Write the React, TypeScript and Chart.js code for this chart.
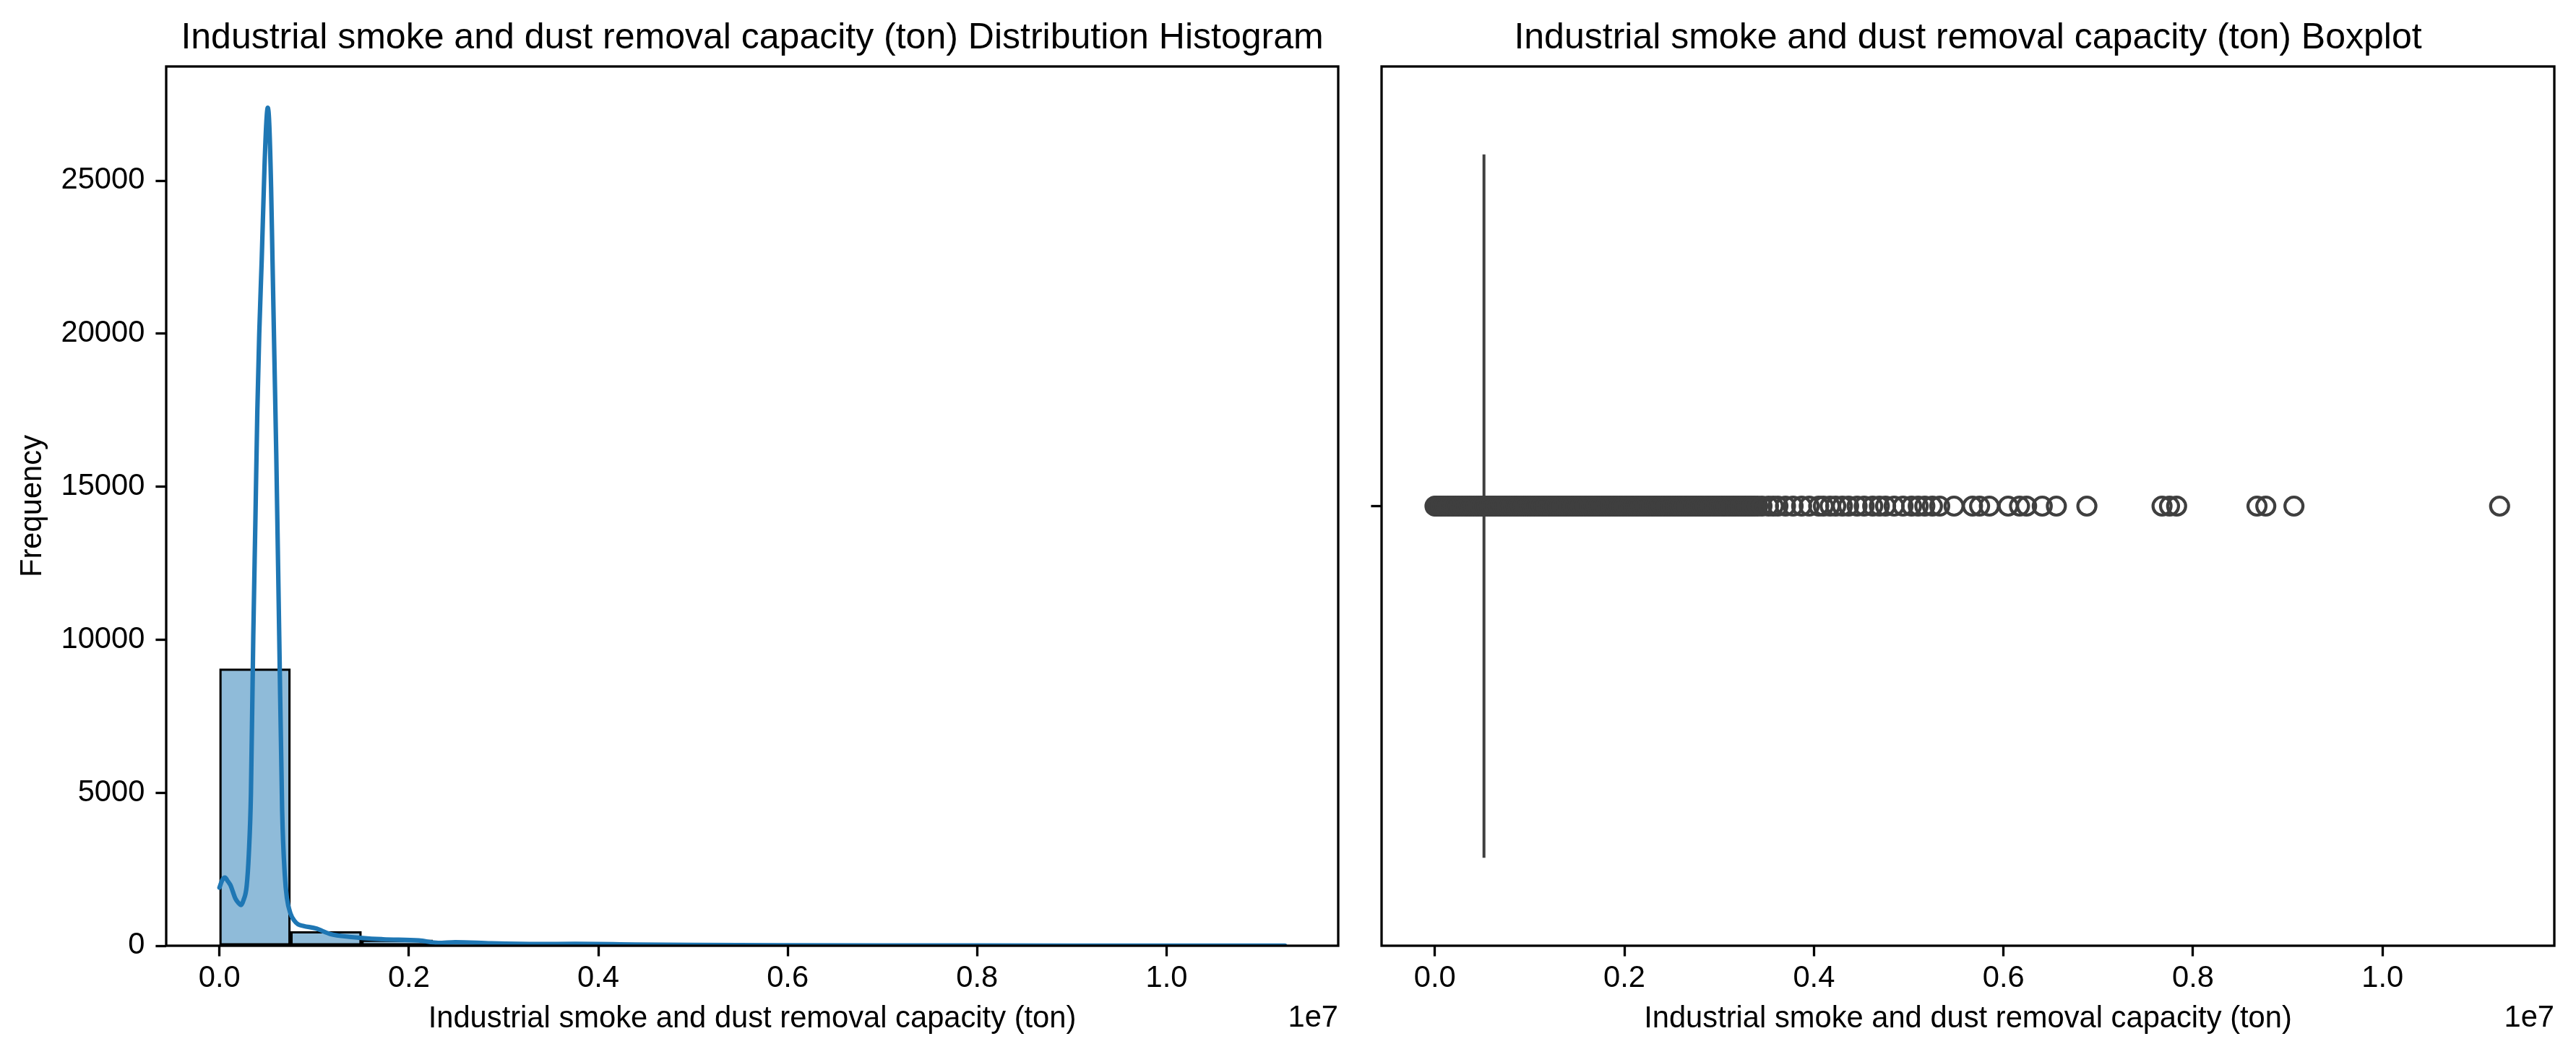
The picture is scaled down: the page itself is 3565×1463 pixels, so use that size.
import React, { useEffect, useRef } from 'react';
import Chart from 'chart.js/auto';

const FONT = "'Liberation Sans', Arial, sans-serif";
const VAR_LABEL = 'Industrial smoke and dust removal capacity (ton)';

// --- histogram: 15 bins of 750k from 0 to 11.25M (bin centres) ---
const binCenters = [
  375000, 1125000, 1875000, 2625000, 3375000, 4125000, 4875000, 5625000,
  6375000, 7125000, 7875000, 8625000, 9375000, 10125000, 10875000,
];
const binCounts = [9050, 470, 195, 70, 30, 15, 10, 6, 4, 2, 2, 1, 1, 1, 1];

// --- kde curve ---
const kdeX = [
  0, 30000, 58000, 90000, 116000, 140000, 167000, 200000, 226000, 255000, 287000,
  310000, 332000, 357000, 380000, 400000, 420000, 446000, 475000, 495000, 510000,
  525000, 545000, 560000, 580000, 600000, 631000, 662000, 690000, 712000, 750000,
  790000, 830000, 890000, 1017000, 1169000, 1371000, 1726000, 2106000, 2310000,
  2490000, 2870000, 3374000, 3754000, 4390000, 5000000, 6000000, 7000000, 8000000,
  9000000, 10000000, 11250000,
];
const kdeY = [
  1900, 2150, 2230, 2100, 1980, 1780, 1550, 1400, 1330, 1500, 1945,
  3000, 4930, 10120, 14000, 17500, 20000, 22400, 25400, 26900, 27380,
  26900, 24800, 22400, 19200, 16000, 10120, 4400, 2300, 1560, 1050,
  820, 700, 645, 567, 385, 290, 212, 173, 94,
  118, 78, 54, 60, 40, 25, 15, 10, 8,
  6, 4, 3,
];

// --- boxplot: collapsed box (q1 = median = q3) and the outliers ---
const boxMedian = 518000;
const flierValues = [
  1200, 19000, 42000, 61000, 88000, 107000, 133000, 151000, 178000, 196000, 224000,
  247000, 263000, 291000, 318000, 336000, 362000, 384000, 409000, 437000, 455000,
  481000, 503000, 529000, 548000, 577000, 596000, 622000, 641000, 668000, 694000,
  713000, 739000, 761000, 788000, 806000, 835000, 857000, 879000, 904000, 931000,
  952000, 978000, 1003000, 1026000, 1049000, 1077000, 1098000, 1124000, 1151000,
  1170000, 1199000, 1221000, 1246000, 1268000, 1295000, 1317000, 1342000, 1366000,
  1390000, 1413000, 1440000, 1461000, 1488000, 1512000, 1536000, 1559000, 1585000,
  1608000, 1633000, 1657000, 1681000, 1705000, 1731000, 1754000, 1779000, 1802000,
  1828000, 1851000, 1877000, 1899000, 1925000, 1949000, 1974000, 1997000, 2023000,
  2046000, 2072000, 2095000, 2121000, 2144000, 2170000, 2193000, 2219000, 2243000,
  2268000, 2291000, 2317000, 2340000, 2366000, 2390000, 2414000, 2439000, 2463000,
  2488000, 2512000, 2537000, 2561000, 2586000, 2610000, 2635000, 2659000, 2684000,
  2708000, 2733000, 2757000, 2782000, 2806000, 2831000, 2855000, 2880000, 2904000,
  2929000, 2953000, 2978000, 3002000, 3027000, 3051000, 3076000, 3100000, 3125000,
  3149000, 3174000, 3198000, 3223000, 3247000, 3272000, 3296000, 3318000,
  3345000, 3372000, 3405000, 3452000, 3520000, 3571000, 3620000, 3700000, 3780000,
  3870000, 3950000, 4050000, 4100000, 4170000, 4230000, 4300000, 4366000, 4455000,
  4530000, 4620000, 4690000, 4756000, 4846000, 4940000, 5030000, 5100000, 5170000,
  5250000, 5327000, 5478000, 5673000, 5748000, 5851000, 6049000, 6169000, 6244000,
  6409000, 6558000, 6880000, 7673000, 7752000, 7827000, 8675000, 8768000, 9065000,
  11235000,
];

// --- ticks ---
const xTicks = [0, 2000000, 4000000, 6000000, 8000000, 10000000];
const yTicks = [0, 5000, 10000, 15000, 20000, 25000];
const xMin = -562500;
const xMax = 11812500;

Chart.defaults.font.family = FONT;
Chart.defaults.color = '#000';

// axes frame, suptitle-ish axes title and the "1e7" offset text
const figTextPlugin = {
  id: 'figText',
  afterDraw(chart: any, _args: any, opts: any) {
    const { ctx, chartArea } = chart;
    ctx.save();
    ctx.strokeStyle = '#000';
    ctx.lineWidth = 3.3;
    ctx.strokeRect(chartArea.left, chartArea.top, chartArea.right - chartArea.left, chartArea.bottom - chartArea.top);
    ctx.fillStyle = '#000';
    ctx.textBaseline = 'alphabetic';
    ctx.font = `50px ${FONT}`;
    ctx.textAlign = 'center';
    ctx.fillText(opts.title, (chartArea.left + chartArea.right) / 2, 67);
    ctx.font = `41.7px ${FONT}`;
    ctx.textAlign = 'right';
    ctx.fillText(opts.offset, chartArea.right, 1421);
    ctx.restore();
  },
};

const tickGrid = {
  display: true,
  drawOnChartArea: false,
  drawTicks: true,
  tickLength: 14.6,
  tickWidth: 3.3,
  tickColor: '#000',
};

const xScale = (height: number) => ({
  type: 'linear',
  min: xMin,
  max: xMax,
  offset: false,
  grid: { ...tickGrid, offset: false },
  border: { display: false },
  afterBuildTicks: (s: any) => { s.ticks = xTicks.map(v => ({ value: v })); },
  afterFit: (s: any) => { s.height = height; },
  ticks: {
    font: { size: 41.7 },
    padding: 6,
    maxRotation: 0,
    autoSkip: false,
    callback: (v: any) => (Number(v) / 1e7).toFixed(1),
  },
  title: {
    display: true,
    text: VAR_LABEL,
    font: { size: 41.7 },
    padding: { top: 0, bottom: 27 },
  },
});

function HistogramChart() {
  const canvasRef = useRef<HTMLCanvasElement | null>(null);
  useEffect(() => {
    if (!canvasRef.current) return;
    const chart = new Chart(canvasRef.current, {
      type: 'bar',
      data: {
        datasets: [
          {
            type: 'line',
            data: kdeX.map((x, i) => ({ x, y: kdeY[i] })),
            borderColor: '#1f77b4',
            borderWidth: 6.2,
            pointRadius: 0,
            cubicInterpolationMode: 'monotone',
            borderCapStyle: 'round',
            borderJoinStyle: 'round',
            order: 0,
          } as any,
          {
            type: 'bar',
            data: binCenters.map((x, i) => ({ x, y: binCounts[i] })),
            backgroundColor: '#8fbbd9',
            borderColor: '#000',
            borderWidth: 3.3,
            borderSkipped: false,
            barPercentage: 1,
            categoryPercentage: 1,
            order: 1,
          } as any,
        ],
      },
      options: {
        responsive: false,
        animation: false,
        devicePixelRatio: 1,
        layout: { padding: { left: 0, top: 92, right: 28, bottom: 0 } },
        plugins: {
          legend: { display: false },
          tooltip: { enabled: false },
          figText: { title: `${VAR_LABEL} Distribution Histogram`, offset: '1e7' },
        } as any,
        scales: {
          x: xScale(154) as any,
          y: {
            type: 'linear',
            min: 0,
            max: 28730,
            grid: tickGrid,
            border: { display: false },
            afterBuildTicks: (s: any) => { s.ticks = yTicks.map(v => ({ value: v })); },
            afterFit: (s: any) => { s.width = 230; },
            ticks: { font: { size: 41.7 }, padding: 15, callback: (v: any) => String(v) },
            title: { display: true, text: 'Frequency', font: { size: 41.7 }, padding: { top: 20, bottom: 0 } },
          } as any,
        },
      },
      plugins: [figTextPlugin],
    });
    return () => chart.destroy();
  }, []);
  return <canvas ref={canvasRef} width={1880} height={1463} style={{ position: 'absolute', left: 0, top: 0 }} />;
}

function BoxplotChart() {
  const canvasRef = useRef<HTMLCanvasElement | null>(null);
  useEffect(() => {
    if (!canvasRef.current) return;
    const chart = new Chart(canvasRef.current, {
      type: 'scatter',
      data: {
        datasets: [
          {
            type: 'line',
            data: [{ x: boxMedian, y: -0.4 }, { x: boxMedian, y: 0.4 }],
            borderColor: '#3f3f3f',
            borderWidth: 4,
            pointRadius: 0,
            order: 1,
          } as any,
          {
            data: flierValues.map(x => ({ x, y: 0 })),
            pointStyle: 'circle',
            pointRadius: 12.5,
            pointBorderWidth: 4.2,
            pointBackgroundColor: 'rgba(0,0,0,0)',
            pointBorderColor: '#3f3f3f',
            order: 0,
          } as any,
        ],
      },
      options: {
        responsive: false,
        animation: false,
        devicePixelRatio: 1,
        layout: { padding: { left: 0, top: 92, right: 30, bottom: 0 } },
        plugins: {
          legend: { display: false },
          tooltip: { enabled: false },
          figText: { title: `${VAR_LABEL} Boxplot`, offset: '1e7' },
        } as any,
        scales: {
          x: xScale(154) as any,
          y: {
            type: 'linear',
            min: -0.5,
            max: 0.5,
            grid: tickGrid,
            border: { display: false },
            afterBuildTicks: (s: any) => { s.ticks = [{ value: 0 }]; },
            afterFit: (s: any) => { s.width = 32; },
            ticks: { display: false },
          } as any,
        },
      },
      plugins: [figTextPlugin],
    });
    return () => chart.destroy();
  }, []);
  return <canvas ref={canvasRef} width={1685} height={1463} style={{ position: 'absolute', left: 1880, top: 0 }} />;
}

export default function App() {
  return (
    <div style={{ position: 'absolute', left: 0, top: 0, width: 3565, height: 1463, background: '#fff' }}>
      <HistogramChart />
      <BoxplotChart />
    </div>
  );
}
